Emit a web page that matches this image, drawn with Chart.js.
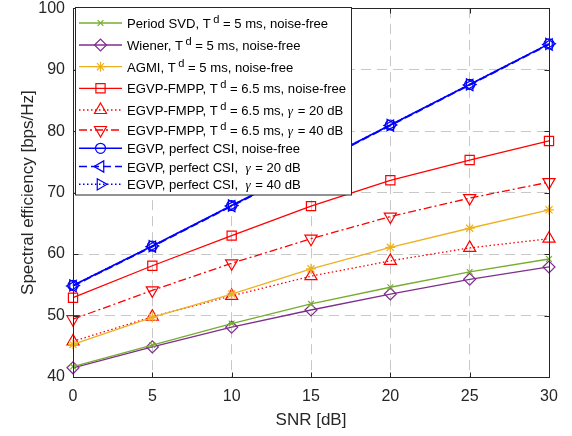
<!DOCTYPE html>
<html><head><meta charset="utf-8">
<script src="https://cdn.jsdelivr.net/npm/chart.js@4/dist/chart.umd.min.js"></script>
<style>html,body{margin:0;padding:0;background:#fff}#wrap{width:572px;height:436px;position:relative}</style>
</head><body><div id="wrap"><canvas id="c"></canvas></div>
<script>
// ---- data ----
const snr = [0, 5, 10, 15, 20, 25, 30];
const periodSVD = [41.7, 45.2, 48.7, 51.9, 54.6, 57.1, 59.2];
const wiener    = [41.5, 44.9, 48.1, 50.9, 53.5, 55.9, 57.9];
const agmi      = [45.3, 49.7, 53.5, 57.6, 61.1, 64.2, 67.2];
const fmppNF    = [52.9, 58.1, 63.0, 67.8, 72.0, 75.3, 78.4];
const fmpp20    = [45.8, 49.8, 53.2, 56.4, 58.9, 61.0, 62.5];
const fmpp40    = [49.4, 54.1, 58.5, 62.5, 66.1, 69.1, 71.7];
const egvpNF    = [54.9, 61.3, 67.9, 74.4, 81.0, 87.6, 94.2];
const egvp20    = [54.8, 61.2, 67.8, 74.3, 80.9, 87.5, 94.1];
const egvp40    = [54.9, 61.3, 67.9, 74.4, 81.0, 87.6, 94.2];
const xTicks = [0, 5, 10, 15, 20, 25, 30];
const yTicks = [40, 50, 60, 70, 80, 90, 100];
const seriesLabels = [
  'Period SVD, T^d = 5 ms, noise-free',
  'Wiener, T^d = 5 ms, noise-free',
  'AGMI, T^d = 5 ms, noise-free',
  'EGVP-FMPP, T^d = 6.5 ms, noise-free',
  'EGVP-FMPP, T^d = 6.5 ms, γ = 20 dB',
  'EGVP-FMPP, T^d = 6.5 ms, γ = 40 dB',
  'EGVP, perfect CSI, noise-free',
  'EGVP, perfect CSI,  γ = 20 dB',
  'EGVP, perfect CSI,  γ = 40 dB'
];
const xTitle = 'SNR [dB]';
const yTitle = 'Spectral efficiency [bps/Hz]';

// ---- styles ----
const FONT = "'Liberation Sans', Arial, Helvetica, sans-serif";
const GREEN = '#77AC30', PURPLE = '#7E2F8E', ORANGE = '#EDB120', RED = '#FF0000', BLUE = '#0000FF';
const values = [periodSVD, wiener, agmi, fmppNF, fmpp20, fmpp40, egvpNF, egvp20, egvp40];
const styles = [
  {color: GREEN,  dash: [],           ps: 'crossRot', r: 4,   rot: 0,   w: 1.3},
  {color: PURPLE, dash: [],           ps: 'rectRot',  r: 6,   rot: 0,   w: 1.3},
  {color: ORANGE, dash: [],           ps: 'star',     r: 5,   rot: 0,   w: 1.3},
  {color: RED,    dash: [],           ps: 'rect',     r: 6.5, rot: 0,   w: 1.3},
  {color: RED,    dash: [1.5, 2.5],   ps: 'triangle', r: 7,   rot: 0,   w: 1.3},
  {color: RED,    dash: [8, 3, 2, 3], ps: 'triangle', r: 7,   rot: 180, w: 1.3},
  {color: BLUE,   dash: [],           ps: 'circle',   r: 5,   rot: 0,   w: 1.6},
  {color: BLUE,   dash: [8, 4],       ps: 'triangle', r: 6.5, rot: -90, w: 1.6},
  {color: BLUE,   dash: [1.5, 2.5],   ps: 'triangle', r: 6.5, rot: 90,  w: 1.6}
];
// legend row baselines (layout)
const legendBaselines = [28, 50, 71.7, 93.3, 115, 135, 153.3, 171.5, 189.3];

const datasets = values.map((v, i) => {
  const s = styles[i];
  return {
    label: seriesLabels[i],
    data: snr.map((x, k) => ({x, y: v[k]})),
    borderColor: s.color,
    backgroundColor: 'rgba(0,0,0,0)',
    borderWidth: s.w,
    borderDash: s.dash,
    pointStyle: s.ps,
    pointRadius: s.r,
    pointRotation: s.rot,
    pointBorderColor: s.color,
    pointBackgroundColor: 'rgba(0,0,0,0)',
    pointBorderWidth: 1.2,
    tension: 0,
    clip: false
  };
});

// frame + inward ticks (MATLAB box)
const framePlugin = {
  id: 'frame',
  afterDatasetsDraw(chart) {
    const {ctx, chartArea: a, scales: {x, y}} = chart;
    ctx.save();
    ctx.strokeStyle = '#262626';
    ctx.lineWidth = 1;
    ctx.setLineDash([]);
    const L = Math.round(a.left) + 0.5, R = Math.round(a.right) + 0.5;
    const T = Math.round(a.top) + 0.5, B = Math.round(a.bottom) + 0.5;
    ctx.strokeRect(L, T, R - L, B - T);
    const tl = 5;
    ctx.beginPath();
    xTicks.forEach(v => {
      const px = Math.round(x.getPixelForValue(v)) + 0.5;
      ctx.moveTo(px, B); ctx.lineTo(px, B - tl);
      ctx.moveTo(px, T); ctx.lineTo(px, T + tl);
    });
    yTicks.forEach(v => {
      const py = Math.round(y.getPixelForValue(v)) + 0.5;
      ctx.moveTo(L, py); ctx.lineTo(L + tl, py);
      ctx.moveTo(R, py); ctx.lineTo(R - tl, py);
    });
    ctx.stroke();
    ctx.restore();
  }
};

// custom legend with superscripts and italic gamma
const legendPlugin = {
  id: 'matlabLegend',
  afterDatasetsDraw(chart) {
    const ctx = chart.ctx;
    const box = {l: 75.5, t: 7.5, r: 351.5, b: 195};
    ctx.save();
    ctx.setLineDash([]);
    ctx.fillStyle = '#fff';
    ctx.fillRect(box.l, box.t, box.r - box.l, box.b - box.t);
    ctx.strokeStyle = '#262626';
    ctx.lineWidth = 1;
    ctx.strokeRect(box.l, box.t, box.r - box.l, box.b - box.t);
    const fs = 13.1;
    seriesLabels.forEach((lab, i) => {
      const s = styles[i];
      const base = legendBaselines[i];
      const yy = base - 5;
      // line sample
      ctx.save();
      ctx.strokeStyle = s.color;
      ctx.fillStyle = 'rgba(0,0,0,0)';
      ctx.lineWidth = s.w;
      ctx.setLineDash(s.dash);
      ctx.beginPath();
      ctx.moveTo(79, yy); ctx.lineTo(122, yy);
      ctx.stroke();
      ctx.setLineDash([]);
      ctx.lineWidth = 1.2;
      Chart.helpers.drawPoint(ctx, {pointStyle: s.ps, radius: s.r, rotation: s.rot, borderWidth: 1.2}, 100.5, yy);
      ctx.restore();
      // text
      ctx.fillStyle = '#000';
      ctx.textBaseline = 'alphabetic';
      let tx = 127;
      const parts = lab.split(/(\^d|γ)/);
      parts.forEach(p => {
        if (!p) return;
        if (p === '^d') {
          ctx.font = `${fs - 2}px ${FONT}`;
          tx += 2.5;
          ctx.fillText('d', tx, base - 5);
          tx += ctx.measureText('d').width;
        } else if (p === 'γ') {
          ctx.font = `italic ${fs}px 'Liberation Serif', 'DejaVu Serif', serif`;
          ctx.fillText('γ', tx, base);
          tx += ctx.measureText('γ').width + 1;
        } else {
          ctx.font = `${fs}px ${FONT}`;
          ctx.fillText(p, tx, base);
          tx += ctx.measureText(p).width;
        }
      });
    });
    ctx.restore();
  }
};

new Chart(document.getElementById('c'), {
  type: 'line',
  data: {datasets},
  options: {
    responsive: true,
    maintainAspectRatio: false,
    animation: false,
    layout: {padding: {top: 6, right: 23, bottom: 0, left: 0}},
    plugins: {legend: {display: false}, tooltip: {enabled: false}},
    scales: {
      x: {
        type: 'linear', min: 0, max: 30,
        afterBuildTicks: sc => { sc.ticks = xTicks.map(v => ({value: v})); },
        afterFit: sc => { sc.height = 59; sc.paddingLeft = 0; sc.paddingRight = 0; },
        ticks: {color: '#262626', font: {family: FONT, size: 16}, padding: 10, maxRotation: 0},
        grid: {color: '#c8c8c8', lineWidth: 1, drawTicks: false},
        border: {display: false, dash: [10, 6]},
        title: {display: true, text: xTitle, color: '#262626', font: {family: FONT, size: 17}, padding: {top: 0, bottom: 5}}
      },
      y: {
        type: 'linear', min: 40, max: 100,
        afterBuildTicks: sc => { sc.ticks = yTicks.map(v => ({value: v})); },
        afterFit: sc => { sc.width = 73; sc.paddingTop = 0; sc.paddingBottom = 0; },
        ticks: {color: '#262626', font: {family: FONT, size: 16}, padding: 8},
        grid: {color: '#c8c8c8', lineWidth: 1, drawTicks: false},
        border: {display: false, dash: [10, 6]},
        title: {display: true, text: yTitle, color: '#262626', font: {family: FONT, size: 17}, padding: {top: 18, bottom: 0}}
      }
    }
  },
  plugins: [framePlugin, legendPlugin]
});
</script>
</body></html>
